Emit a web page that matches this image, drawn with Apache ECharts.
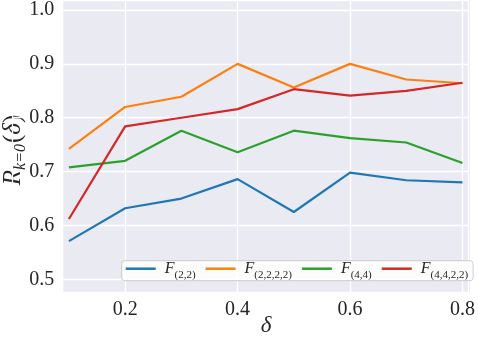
<!DOCTYPE html>
<html><head><meta charset="utf-8">
<script src="https://cdn.jsdelivr.net/npm/echarts@6/dist/echarts.min.js"></script>
<style>html,body{margin:0;padding:0;background:#fff}#c{width:478px;height:342px}</style>
</head><body><div id="c"></div>
<script>
const deltas = [0.1, 0.2, 0.3, 0.4, 0.5, 0.6, 0.7, 0.8];
const seriesNames = ['F(2,2)', 'F(2,2,2,2)', 'F(4,4)', 'F(4,4,2,2)'];
const seriesSubs = ['(2,2)', '(2,2,2,2)', '(4,4)', '(4,4,2,2)'];
const f22 = [0.571, 0.632, 0.650, 0.686, 0.625, 0.698, 0.684, 0.680];
const f2222 = [0.742, 0.820, 0.839, 0.900, 0.856, 0.900, 0.871, 0.864];
const f44 = [0.708, 0.720, 0.776, 0.736, 0.776, 0.762, 0.754, 0.716];
const f4422 = [0.612, 0.784, 0.800, 0.816, 0.853, 0.841, 0.850, 0.865];
const yTickLabels = ['0.5', '0.6', '0.7', '0.8', '0.9', '1.0'];
const xTickLabels = ['0.2', '0.4', '0.6', '0.8'];
const colors = ['#1f77b4', '#ff7f0e', '#2ca02c', '#d62728'];
const allValues = [f22, f2222, f44, f4422];

const SERIF = 'Liberation Serif';
const chart = echarts.init(document.getElementById('c'), null, {renderer: 'canvas'});

// plot area in pixels
const PL = 63.3, PT = 0, PR = 470, PB = 291.7;

const option = {
  animation: false,
  backgroundColor: '#ffffff',
  color: colors,
  grid: {left: 12.7, top: 0, width: 457.3, height: 333.2, containLabel: false},
  xAxis: {
    type: 'value', min: 0, max: 0.81, interval: 0.2,
    offset: -41.5,
    axisLine: {show: false}, axisTick: {show: false},
    splitLine: {show: true, lineStyle: {color: '#ffffff', width: 1.3}},
    axisLabel: {
      margin: 8, fontFamily: SERIF, fontSize: 20, color: '#262626',
      showMaxLabel: false,
      formatter: v => { const s = v.toFixed(1); return xTickLabels.includes(s) ? s : ''; }
    }
  },
  yAxis: {
    type: 'value', min: 0.4, max: 1.0186, interval: 0.1,
    offset: -50.6,
    axisLine: {show: false}, axisTick: {show: false},
    splitLine: {show: true, lineStyle: {color: '#ffffff', width: 1.3}},
    axisLabel: {
      margin: 9, fontFamily: SERIF, fontSize: 20, color: '#262626',
      showMaxLabel: false,
      formatter: v => { const s = v.toFixed(1); return yTickLabels.includes(s) ? s : ''; }
    }
  },
  legend: {
    left: 121.7, top: 260.7,
    orient: 'horizontal',
    backgroundColor: 'rgba(255,255,255,0.85)',
    borderColor: '#cccccc', borderWidth: 1, borderRadius: 3,
    padding: [0, 5, 0, 4],
    itemGap: 10, itemWidth: 30, itemHeight: 2.5, icon: 'rect',
    data: seriesNames,
    formatter: name => '{f|F}{s|' + seriesSubs[seriesNames.indexOf(name)] + '}',
    textStyle: {
      rich: {
        f: {fontFamily: SERIF, fontStyle: 'italic', fontSize: 16, lineHeight: 24, color: '#262626', padding: [0, 0, 0, 4]},
        s: {fontFamily: SERIF, fontSize: 11, lineHeight: 11, verticalAlign: 'bottom', color: '#262626'}
      }
    }
  },
  graphic: [
    {type: 'rect', z: -10, silent: true, shape: {x: PL, y: PT, width: PR - PL, height: PB - PT}, style: {fill: '#EAEAF2'}},
    {type: 'text', x: 13, y: 150, rotation: Math.PI / 2, silent: true,
      style: {
        text: '{r|R}{s|k=0}{p|(}{d|δ}{p|)}', align: 'center', verticalAlign: 'middle',
        rich: {
          r: {fontFamily: SERIF, fontStyle: 'italic', fontSize: 25, lineHeight: 32, fill: '#262626'},
          s: {fontFamily: SERIF, fontStyle: 'italic', fontSize: 16, lineHeight: 14, verticalAlign: 'bottom', fill: '#262626', padding: [0, 1, 0, 0]},
          p: {fontFamily: SERIF, fontSize: 25, lineHeight: 32, fill: '#262626'},
          d: {fontFamily: SERIF, fontStyle: 'italic', fontSize: 25, lineHeight: 32, fill: '#262626'}
        }
      }
    },
    {type: 'text', x: 266, y: 326, silent: true,
      style: {text: 'δ', align: 'center', verticalAlign: 'middle', fontFamily: SERIF, fontStyle: 'italic', fontSize: 23, fill: '#262626'}}
  ],
  series: seriesNames.map((n, i) => ({
    name: n, type: 'line', showSymbol: false, symbol: 'none',
    lineStyle: {width: 2.2, color: colors[i]}, itemStyle: {color: colors[i]},
    data: deltas.map((d, j) => [d, allValues[i][j]])
  }))
};
chart.setOption(option);
</script></body></html>
